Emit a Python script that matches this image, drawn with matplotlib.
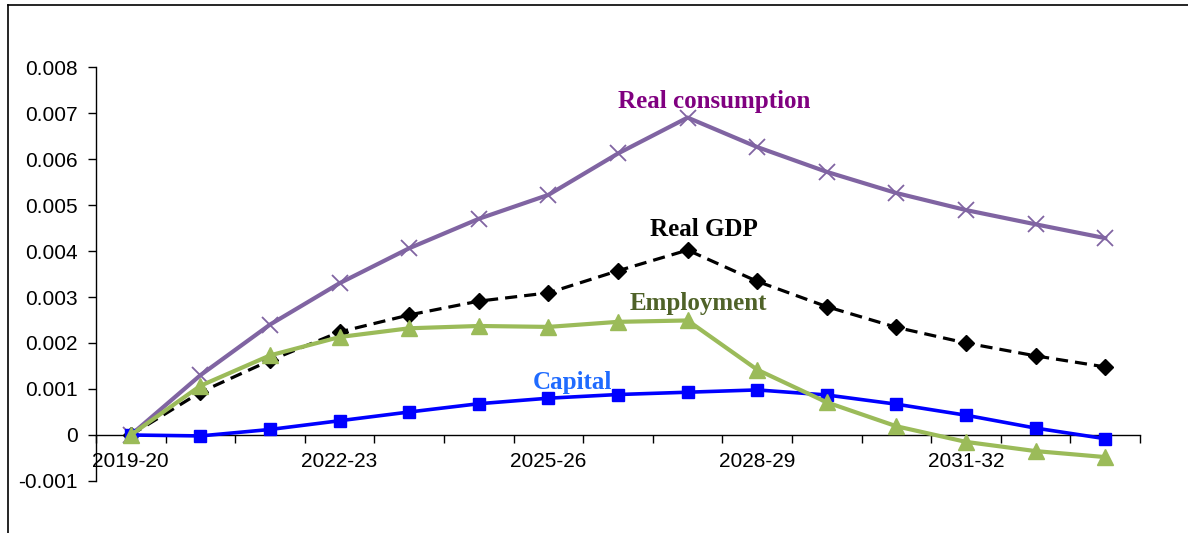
#!/usr/bin/env python3
"""
Deviation from baseline, 2019-20 to 2033-34
Real consumption, real GDP, employment and capital.
"""

import matplotlib
matplotlib.use("Agg")
import matplotlib.pyplot as plt
from matplotlib.lines import Line2D

# ── Data ──────────────────────────────────────────────────────────────────────
YEARS = ["2019-20", "2020-21", "2021-22", "2022-23", "2023-24", "2024-25",
         "2025-26", "2026-27", "2027-28", "2028-29", "2029-30", "2030-31",
         "2031-32", "2032-33", "2033-34"]

REAL_CONSUMPTION = [0.0, 0.0013, 0.0024, 0.0033, 0.00406, 0.0047, 0.00522,
                    0.00612, 0.0069, 0.00626, 0.00572, 0.00526, 0.00489,
                    0.00458, 0.00428]
REAL_GDP = [0.0, 0.00093, 0.00162, 0.00224, 0.00261, 0.00291, 0.00309,
            0.00357, 0.00402, 0.00334, 0.00279, 0.00234, 0.00200,
            0.00172, 0.00148]
EMPLOYMENT = [0.0, 0.00107, 0.00173, 0.00213, 0.00232, 0.00237, 0.00235,
              0.00246, 0.00249, 0.00142, 0.00071, 0.00019, -0.00015,
              -0.00035, -0.00048]
CAPITAL = [0.0, -0.00002, 0.00012, 0.00031, 0.0005, 0.00068, 0.0008,
           0.00088, 0.00093, 0.00098, 0.00087, 0.00067, 0.00043,
           0.00015, -0.00008]

Y_TICKS = [-0.001, 0, 0.001, 0.002, 0.003, 0.004, 0.005, 0.006, 0.007, 0.008]
Y_TICK_LABELS = ["-0.001", "0", "0.001", "0.002", "0.003", "0.004",
                 "0.005", "0.006", "0.007", "0.008"]

# ── Colours ───────────────────────────────────────────────────────────────────
C_CONS_LINE = "#8064A2"
C_CONS_TEXT = "#800080"
C_GDP       = "#000000"
C_EMP_LINE  = "#9BBB59"
C_EMP_TEXT  = "#4F6228"
C_CAP_LINE  = "#0000FF"
C_CAP_TEXT  = "#1F6BFF"

LABEL_FONT = ["Liberation Serif", "DejaVu Serif"]

plt.rcParams["font.family"] = ["Liberation Sans", "DejaVu Sans"]

fig = plt.figure(figsize=(11.88, 5.33), dpi=100)
ax = fig.add_axes([96 / 1188, 1 - 481 / 533,
                   (1140 - 96) / 1188, (481 - 67) / 533])

x = list(range(len(YEARS)))

ax.plot(x, REAL_GDP, color=C_GDP, linewidth=2.3, linestyle=(0, (3.8, 2.2)),
        marker="D", markersize=8, markerfacecolor=C_GDP,
        markeredgecolor=C_GDP, zorder=3)
ax.plot(x, REAL_CONSUMPTION, color=C_CONS_LINE, linewidth=3.0,
        marker="x", markersize=11, markeredgewidth=1.3,
        markeredgecolor=C_CONS_LINE, zorder=4)
ax.plot(x, CAPITAL, color=C_CAP_LINE, linewidth=2.6,
        marker="s", markersize=8.5, markerfacecolor=C_CAP_LINE,
        markeredgecolor=C_CAP_LINE, zorder=5)
ax.plot(x, EMPLOYMENT, color=C_EMP_LINE, linewidth=3.0,
        marker="^", markersize=11, markerfacecolor=C_EMP_LINE,
        markeredgecolor=C_EMP_LINE, zorder=6)

# ── Series labels ─────────────────────────────────────────────────────────────
ax.text(8.38, 0.00726, "Real consumption", color=C_CONS_TEXT,
        fontsize=18, fontweight="bold", family=LABEL_FONT,
        ha="center", va="center", zorder=7)
ax.text(8.23, 0.00446, "Real GDP", color=C_GDP,
        fontsize=18, fontweight="bold", family=LABEL_FONT,
        ha="center", va="center", zorder=7)
ax.text(8.15, 0.00285, "Employment", color=C_EMP_TEXT,
        fontsize=18, fontweight="bold", family=LABEL_FONT,
        ha="center", va="center", zorder=7)
ax.text(6.34, 0.00115, "Capital", color=C_CAP_TEXT,
        fontsize=18, fontweight="bold", family=LABEL_FONT,
        ha="center", va="center", zorder=7)

# ── Axes ──────────────────────────────────────────────────────────────────────
ax.set_xlim(-0.5, len(YEARS) - 0.5)
ax.set_ylim(-0.001, 0.008)

for side in ("top", "right"):
    ax.spines[side].set_visible(False)
ax.spines["bottom"].set_position(("data", 0))
ax.spines["left"].set_position(("data", -0.5))
for side in ("left", "bottom"):
    ax.spines[side].set_linewidth(1.0)
    ax.spines[side].set_color("#000000")

ax.set_yticks(Y_TICKS)
ax.set_yticklabels(Y_TICK_LABELS)
ax.tick_params(axis="y", direction="out", length=6, width=1.0,
               pad=7, labelsize=15)

ax.set_xticks(x[::3])
ax.set_xticklabels(YEARS[::3])
ax.set_xticks([i - 0.5 for i in range(len(YEARS) + 1)], minor=True)
ax.tick_params(axis="x", which="major", length=0, pad=12, labelsize=15)
ax.tick_params(axis="x", which="minor", direction="out", length=6, width=1.0)

# ── Partial outer frame (top and left) ───────────────────────────────────────
fig.add_artist(Line2D([8 / 1188, 1.0], [1 - 5 / 533, 1 - 5 / 533],
                      color="black", linewidth=1.2, transform=fig.transFigure))
fig.add_artist(Line2D([8 / 1188, 8 / 1188], [0.0, 1 - 5 / 533],
                      color="black", linewidth=1.2, transform=fig.transFigure))

fig.savefig("out.png", dpi=100, facecolor="white")
plt.close(fig)
